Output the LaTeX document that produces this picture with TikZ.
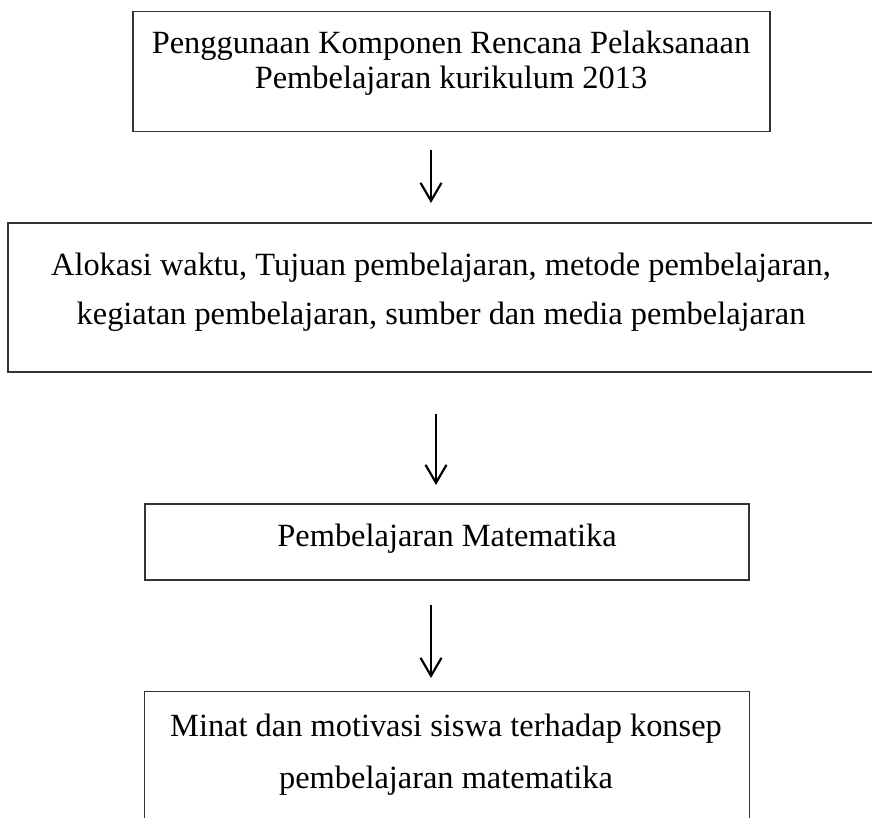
\documentclass[tikz,border=0pt]{standalone}
\usepackage{fontspec}
\setmainfont{Liberation Serif}
\usetikzlibrary{
  arrows.meta,
}

\tikzset{
  flowbox/.style={
    draw=black!80,
    line width=0.8pt,
    inner sep=0pt,
  },
  flowtext/.style={
    anchor=base,
    inner sep=0pt,
    font=\fontsize{16.2}{18}\selectfont,
  },
  flowarrow/.style={
    line width=1.1pt,
    -{Straight Barb[length=9pt,width=10.5pt,line width=1.1pt]},
  },
}

\begin{document}
\begin{tikzpicture}[x=0.5pt,y=-0.5pt]
\useasboundingbox (0,0) rectangle (872,818);

% boxes
\node[flowbox, minimum width=318.5pt, minimum height=60pt] (penggunaan) at (451.5,71.5) {};
\node[flowbox, minimum width=434pt, minimum height=74.5pt] (komponen) at (442,297.5) {};
\node[flowbox, minimum width=302pt, minimum height=38pt] (matematika) at (447,542) {};
\node[inner sep=0pt, minimum width=302pt, minimum height=70pt] (minat) at (447,762) {};
\draw[black!80, line width=0.8pt] (minat.south west) -- (minat.north west) -- (minat.north east) -- (minat.south east);

% texts
\node[flowtext] (penggunaan 1) at (451,54) {Penggunaan Komponen Rencana Pelaksanaan};
\node[flowtext] (penggunaan 2) at (451,89) {Pembelajaran kurikulum 2013};
\node[flowtext] (komponen 1) at (441,275) {Alokasi waktu, Tujuan pembelajaran, metode pembelajaran,};
\node[flowtext] (komponen 2) at (441,324) {kegiatan pembelajaran, sumber dan media pembelajaran};
\node[flowtext] (matematika 1) at (447,546) {Pembelajaran Matematika};
\node[flowtext] (minat 1) at (446,736) {Minat dan motivasi siswa terhadap konsep};
\node[flowtext] (minat 2) at (446,788) {pembelajaran matematika};

% arrows
\foreach[count=\k] \x/\ya/\yb in {431/150/203, 436/414/485, 431/605/678} {
  \coordinate (arrow \k a) at (\x,\ya);
  \coordinate (arrow \k b) at (\x,\yb);
  \draw[flowarrow] (arrow \k a) -- (arrow \k b);
}
\end{tikzpicture}
\end{document}
